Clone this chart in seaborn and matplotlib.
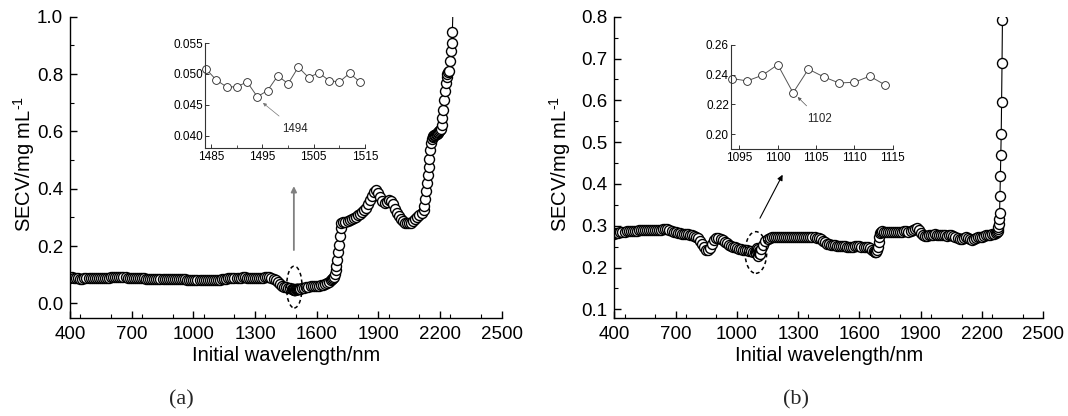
import numpy as np
import pandas as pd
import seaborn as sns
import matplotlib
matplotlib.use("Agg")
import matplotlib.pyplot as plt
from matplotlib.patches import Ellipse
from matplotlib.ticker import MultipleLocator, FormatStrFormatter

# ---------------- data: panel (a) ----------------
wl_a = [*range(400, 1481, 10), *range(1484, 1515, 2), *range(1520, 1671, 10),
        *range(1676, 1721, 4), *range(1730, 2121, 10), *range(2124, 2265, 4)]
secv_a = [
    0.090, 0.091, 0.089, 0.088, 0.087, 0.086, 0.086, 0.087, 0.087, 0.088,
    0.088, 0.088, 0.089, 0.089, 0.089, 0.090, 0.090, 0.090, 0.090, 0.090,
    0.091, 0.091, 0.091, 0.091, 0.091, 0.091, 0.091, 0.091, 0.090, 0.090,
    0.090, 0.090, 0.090, 0.090, 0.089, 0.088, 0.087, 0.086, 0.086, 0.085,
    0.085, 0.085, 0.085, 0.084, 0.084, 0.084, 0.084, 0.084, 0.084, 0.084,
    0.084, 0.084, 0.084, 0.084, 0.084, 0.084, 0.084, 0.083, 0.083, 0.083,
    0.083, 0.083, 0.082, 0.082, 0.082, 0.082, 0.081, 0.081, 0.081, 0.081,
    0.081, 0.081, 0.082, 0.083, 0.084, 0.085, 0.086, 0.087, 0.088, 0.089,
    0.090, 0.090, 0.090, 0.090, 0.091, 0.091, 0.090, 0.090, 0.090, 0.090,
    0.089, 0.089, 0.089, 0.090, 0.090, 0.091, 0.092, 0.092, 0.090, 0.086,
    0.080, 0.074, 0.068, 0.062, 0.058, 0.056, 0.055, 0.053, 0.051,
    # 1484-1514 (inset)
    0.0508, 0.0490, 0.0479, 0.0479, 0.0487, 0.0463, 0.0473, 0.0497,
    0.0484, 0.0511, 0.0494, 0.0502, 0.0489, 0.0487, 0.0501, 0.0487,
    # 1520-1670
    0.050, 0.052, 0.055, 0.057, 0.058, 0.059, 0.060, 0.060, 0.061, 0.062,
    0.063, 0.065, 0.068, 0.072, 0.076, 0.080,
    # 1676-1720
    0.084, 0.088, 0.093, 0.102, 0.115, 0.132, 0.153, 0.178, 0.205, 0.235,
    0.262, 0.280,
    # 1730-2120
    0.283, 0.285, 0.288, 0.290, 0.294, 0.298, 0.302, 0.307, 0.312, 0.318,
    0.325, 0.334, 0.345, 0.360, 0.375, 0.390, 0.396, 0.386, 0.370, 0.356,
    0.350, 0.354, 0.360, 0.356, 0.345, 0.330, 0.316, 0.304, 0.294, 0.287,
    0.282, 0.279, 0.279, 0.282, 0.288, 0.296, 0.303, 0.309, 0.315, 0.325,
    # 2124-2264
    0.340, 0.365, 0.392, 0.420, 0.448, 0.476, 0.505, 0.535, 0.558, 0.572,
    0.580, 0.584, 0.587, 0.589, 0.591, 0.592, 0.594, 0.597, 0.600, 0.604,
    0.610, 0.622, 0.645, 0.675, 0.708, 0.740, 0.770, 0.790, 0.800, 0.806,
    0.812, 0.845, 0.880, 0.910, 0.947, 1.060,
]
inset_wl_a = list(range(1484, 1515, 2))
inset_secv_a = [0.0508, 0.0490, 0.0479, 0.0479, 0.0487, 0.0463, 0.0473, 0.0497,
                0.0484, 0.0511, 0.0494, 0.0502, 0.0489, 0.0487, 0.0501, 0.0487]

# ---------------- data: panel (b) ----------------
wl_b = [*range(400, 1091, 10), *range(1094, 1115, 2), *range(1120, 1671, 10),
        *range(1674, 1711, 4), *range(1720, 2271, 10), *range(2274, 2301, 2)]
secv_b = [
    0.280, 0.282, 0.283, 0.284, 0.285, 0.286, 0.287, 0.287, 0.288, 0.288,
    0.288, 0.288, 0.289, 0.289, 0.289, 0.289, 0.290, 0.290, 0.290, 0.290,
    0.290, 0.290, 0.290, 0.290, 0.291, 0.291, 0.291, 0.290, 0.288, 0.286,
    0.284, 0.283, 0.282, 0.281, 0.281, 0.280, 0.280, 0.279, 0.278, 0.276,
    0.274, 0.270, 0.264, 0.256, 0.248, 0.243, 0.242, 0.247, 0.256, 0.265,
    0.270, 0.271, 0.269, 0.266, 0.262, 0.258, 0.255, 0.252, 0.250, 0.248,
    0.246, 0.245, 0.244, 0.243, 0.242, 0.241, 0.240, 0.239, 0.238, 0.238,
    # 1094-1114 (inset)
    0.2373, 0.2357, 0.2395, 0.2466, 0.2277, 0.2436, 0.2384, 0.2343,
    0.2348, 0.2389, 0.2330,
    # 1120-1670
    0.245, 0.255, 0.263, 0.268, 0.271, 0.273, 0.274, 0.274, 0.274, 0.274,
    0.274, 0.274, 0.274, 0.274, 0.274, 0.274, 0.274, 0.274, 0.273, 0.273,
    0.273, 0.273, 0.273, 0.272, 0.272, 0.272, 0.272, 0.271, 0.270, 0.268,
    0.264, 0.260, 0.257, 0.256, 0.255, 0.254, 0.253, 0.252, 0.252, 0.251,
    0.251, 0.251, 0.250, 0.250, 0.250, 0.250, 0.251, 0.251, 0.251, 0.250,
    0.250, 0.249, 0.248, 0.246, 0.243, 0.240,
    # 1674-1710
    0.238, 0.237, 0.238, 0.242, 0.250, 0.262, 0.274, 0.282, 0.286, 0.287,
    # 1720-2270
    0.286, 0.285, 0.284, 0.284, 0.285, 0.286, 0.285, 0.284, 0.285, 0.286,
    0.287, 0.287, 0.286, 0.287, 0.289, 0.292, 0.295, 0.290, 0.282, 0.278,
    0.276, 0.276, 0.277, 0.278, 0.279, 0.280, 0.279, 0.278, 0.277, 0.277,
    0.277, 0.276, 0.277, 0.278, 0.275, 0.272, 0.270, 0.268, 0.268, 0.270,
    0.272, 0.270, 0.268, 0.267, 0.268, 0.270, 0.272, 0.273, 0.274, 0.275,
    0.277, 0.278, 0.279, 0.280, 0.281, 0.283,
    # 2274-2300
    0.285, 0.288, 0.292, 0.298, 0.305, 0.315, 0.330, 0.370, 0.420, 0.470,
    0.520, 0.595, 0.690, 0.793,
]
inset_wl_b = list(range(1094, 1115, 2))
inset_secv_b = [0.2373, 0.2357, 0.2395, 0.2466, 0.2277, 0.2436, 0.2384, 0.2343,
                0.2348, 0.2389, 0.2330]

assert len(wl_a) == len(secv_a), (len(wl_a), len(secv_a))
assert len(wl_b) == len(secv_b), (len(wl_b), len(secv_b))

x_ticks = list(range(400, 2501, 300))
ylabel = r"SECV/mg mL$^{\text{-}1}$"
xlabel = "Initial wavelength/nm"

# ---------------- style ----------------
sns.set_theme(style="ticks")
plt.rcParams["font.family"] = ["Liberation Sans", "DejaVu Sans"]
plt.rcParams["mathtext.fontset"] = "custom"
plt.rcParams["mathtext.rm"] = "Liberation Sans"
plt.rcParams["mathtext.it"] = "Liberation Sans"
plt.rcParams["mathtext.default"] = "regular"

W, H = 1068, 416
fig = plt.figure(figsize=(W / 100, H / 100), dpi=100)
fig.patch.set_facecolor("white")


def fr(x0, y_top, x1, y_bot):
    return [x0 / W, 1 - y_bot / H, (x1 - x0) / W, (y_bot - y_top) / H]


axA = fig.add_axes(fr(70, 16.7, 501.7, 317.7))
axB = fig.add_axes(fr(614.3, 16.7, 1043.3, 317.7))


def main_style(ax, ylim, ymajor, yminor, ylab_x):
    ax.set_facecolor("white")
    for s in ["top", "right"]:
        ax.spines[s].set_visible(False)
    for s in ["left", "bottom"]:
        ax.spines[s].set_linewidth(1.0)
        ax.spines[s].set_color("black")
    ax.set_xlim(400, 2500)
    ax.set_ylim(*ylim)
    ax.set_xticks(x_ticks)
    ax.xaxis.set_minor_locator(MultipleLocator(150))
    ax.yaxis.set_major_locator(MultipleLocator(ymajor))
    ax.yaxis.set_minor_locator(MultipleLocator(yminor))
    ax.yaxis.set_major_formatter(FormatStrFormatter("%.1f"))
    ax.tick_params(which="major", direction="in", length=5, width=1,
                   labelsize=13.5, colors="black")
    ax.tick_params(which="minor", direction="in", length=3, width=0.8,
                   colors="black")
    ax.tick_params(axis="x", which="major", pad=6)
    ax.tick_params(axis="y", which="major", pad=5)
    ax.set_xlabel(xlabel, fontsize=14.5, color="black")
    ax.set_ylabel(ylabel, fontsize=14.5, color="black")
    ax.xaxis.set_label_coords(0.5, -0.095)
    ax.yaxis.set_label_coords(ylab_x, 0.51)


def draw_series(ax, x, y, ms, mew, lw, lc):
    df = pd.DataFrame({"wl": x, "secv": y})
    sns.lineplot(data=df, x="wl", y="secv", ax=ax, sort=False, estimator=None,
                 color=lc, lw=lw, marker="o", markersize=ms,
                 markerfacecolor="white", mec="black", mew=mew)
    for ln in ax.get_lines():
        ln.set_markeredgecolor("black")
        ln.set_markerfacecolor("white")
        ln.set_markeredgewidth(mew)


draw_series(axA, wl_a, secv_a, 7.2, 1.0, 0.8, "black")
draw_series(axB, wl_b, secv_b, 7.2, 1.0, 0.8, "black")
main_style(axA, (-0.05, 1.0), 0.2, 0.1, -0.076)
main_style(axB, (0.08, 0.8), 0.1, 0.05, -0.0956)

# dashed ellipses
axA.add_patch(Ellipse((1491, 0.057), 76, 0.146, fill=False, ec="black",
                      lw=1.1, ls=(0, (2.5, 2)), zorder=6))
axB.add_patch(Ellipse((1093, 0.236), 106, 0.0997, fill=False, ec="black",
                      lw=1.1, ls=(0, (2.5, 2)), zorder=6))

# pointer arrows
axA.annotate("", xy=(1489, 0.409), xytext=(1489, 0.186),
             arrowprops=dict(arrowstyle="-|>", color="#808080", lw=1.3,
                             mutation_scale=8, shrinkA=0, shrinkB=0))
axB.annotate("", xy=(1224, 0.422), xytext=(1113, 0.318),
             arrowprops=dict(arrowstyle="-|>", color="black", lw=0.8,
                             mutation_scale=8, shrinkA=0, shrinkB=0))

# ---------------- insets ----------------
insA = fig.add_axes(fr(205, 43, 365, 148))
insB = fig.add_axes(fr(731, 44.7, 892.7, 149))


def inset_style(ax, xlim, ylim, xt, yt, yfmt, xminor=None):
    ax.set_facecolor("none")
    for s in ["top", "right"]:
        ax.spines[s].set_visible(False)
    for s in ["left", "bottom"]:
        ax.spines[s].set_linewidth(0.8)
        ax.spines[s].set_color("#333333")
    ax.set_xlim(*xlim)
    ax.set_ylim(*ylim)
    ax.set_xticks(xt)
    ax.set_yticks(yt)
    if xminor:
        ax.set_xticks(xminor, minor=True)
    ax.yaxis.set_major_formatter(FormatStrFormatter(yfmt))
    ax.tick_params(which="major", direction="in", length=3, width=0.7,
                   labelsize=8.5, colors="#333333", labelcolor="black")
    ax.tick_params(which="minor", direction="in", length=2, width=0.6,
                   colors="#333333")
    ax.tick_params(axis="y", pad=1.5)
    ax.tick_params(axis="x", pad=2.5)
    ax.set_xlabel("")
    ax.set_ylabel("")


def draw_inset(ax, x, y):
    df = pd.DataFrame({"wl": x, "secv": y})
    sns.lineplot(data=df, x="wl", y="secv", ax=ax, sort=False, estimator=None,
                 color="#555555", lw=0.7, marker="o", markersize=5.6,
                 markerfacecolor="white", mec="#222222", mew=0.6,
                 clip_on=False)
    for ln in ax.get_lines():
        ln.set_markeredgecolor("#222222")
        ln.set_markerfacecolor("white")


draw_inset(insA, inset_wl_a, inset_secv_a)
inset_style(insA, (1483.8, 1515), (0.038, 0.055), [1485, 1495, 1505, 1515],
            [0.040, 0.045, 0.050, 0.055], "%.3f", [1490, 1500, 1510])
insA.annotate("1494", xy=(1495.1, 0.0453), xytext=(1501.3, 0.0411),
              ha="center", va="center", fontsize=8.3,
              arrowprops=dict(arrowstyle="-|>", color="#777777", lw=0.5,
                              mutation_scale=5, shrinkA=4, shrinkB=0))

draw_inset(insB, inset_wl_b, inset_secv_b)
inset_style(insB, (1093.9, 1115), (0.19, 0.26), [1095, 1100, 1105, 1110, 1115],
            [0.20, 0.22, 0.24, 0.26], "%.2f")
insB.annotate("1102", xy=(1102.6, 0.2249), xytext=(1105.5, 0.2101),
              ha="center", va="center", fontsize=8.3,
              arrowprops=dict(arrowstyle="-|>", color="#555555", lw=0.5,
                              mutation_scale=5, shrinkA=4, shrinkB=0))

# captions
fig.text(181 / W, 1 - 400 / H, "(a)", ha="center", va="center", fontsize=16,
         family=["Liberation Serif", "DejaVu Serif"])
fig.text(796 / W, 1 - 400 / H, "(b)", ha="center", va="center", fontsize=16,
         family=["Liberation Serif", "DejaVu Serif"])

fig.savefig("out.png", dpi=100, facecolor="white")
